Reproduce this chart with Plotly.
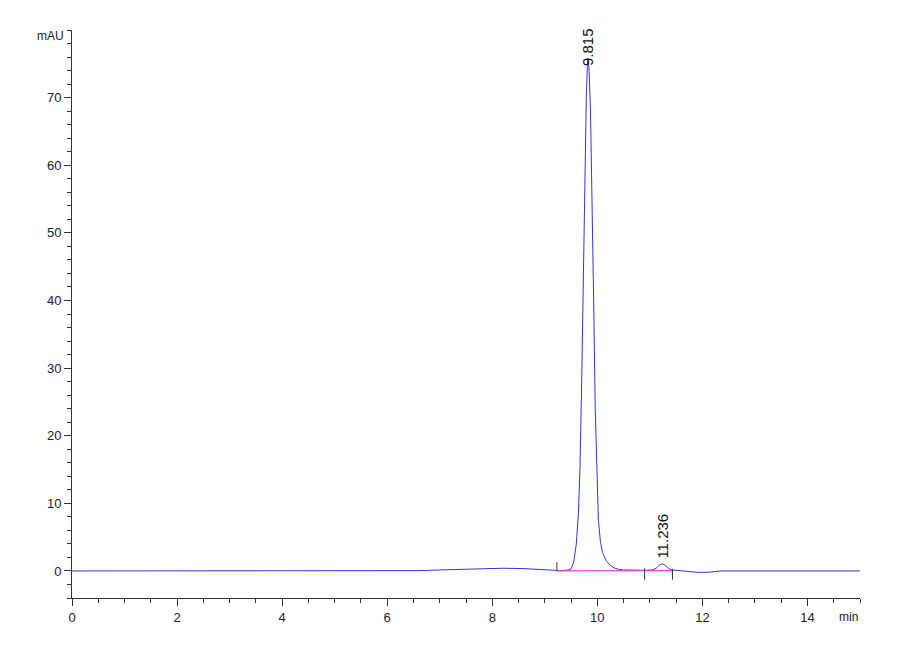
import plotly.graph_objects as go

# chromatogram trace (time in min, signal in mAU)
time_min = [0.0, 1.0, 2.0, 3.0, 4.0, 5.0, 6.0, 6.6, 7.0, 7.4, 7.5, 7.8, 8.2, 8.6,
            9.0, 9.3, 9.45, 9.50, 9.55, 9.60, 9.64, 9.67, 9.70, 9.73, 9.76, 9.79,
            9.815, 9.84, 9.87, 9.90, 9.93, 9.96, 9.99, 10.02, 10.06, 10.10, 10.17,
            10.25, 10.32, 10.40, 10.50, 10.70, 10.90, 11.05, 11.12, 11.18, 11.24,
            11.30, 11.36, 11.42, 11.50, 11.60, 11.75, 11.90, 12.10, 12.25, 12.35,
            13.0, 14.0, 15.0]
signal_mau = [0.0, 0.0, 0.0, 0.0, 0.0, 0.0, 0.0, 0.05, 0.15, 0.25, 0.2, 0.3, 0.4, 0.35,
              0.15, 0.05, 0.15, 0.3, 1.3, 4.0, 8.5, 15.4, 27.0, 43.0, 59.0, 70.0,
              75.8, 74.5, 68.0, 56.0, 40.0, 24.0, 13.5, 7.5, 4.2, 2.7, 1.5,
              0.8, 0.45, 0.25, 0.15, 0.1, 0.1, 0.15, 0.4, 0.85, 1.05,
              0.8, 0.35, 0.15, 0.1, 0.0, -0.15, -0.2, -0.2, -0.1, 0.0,
              0.0, 0.0, 0.0]

# integration baseline (pink)
base_t = [9.23, 10.90, 11.43]
base_y = [0.0, 0.1, 0.05]

# integration markers: start/end ticks (bottom, top in mAU)
mark_t = [9.23, 10.90, 11.43]
mark_lo = [0.0, -1.3, -1.3]
mark_hi = [1.3, 0.4, 0.3]

# peaks
peak_t = [9.815, 11.236]
peak_h = [75.8, 1.05]
peak_lbl = ["9.815", "11.236"]
peak_shift = [-10, 3]

FONT = "Liberation Sans Narrow, Liberation Sans, Arial, sans-serif"

fig = go.Figure()

fig.add_trace(go.Scatter(x=time_min, y=signal_mau, mode="lines",
                         line=dict(color="#3535d5", width=1), hoverinfo="skip"))

fig.add_trace(go.Scatter(x=base_t, y=base_y, mode="lines",
                         line=dict(color="#e83ce8", width=1.2), hoverinfo="skip"))

for t, lo, hi in zip(mark_t, mark_lo, mark_hi):
    fig.add_shape(type="line", x0=t, x1=t, y0=lo, y1=hi, xref="x", yref="y",
                  line=dict(color="#333333", width=1))

for t, h, lbl, sh in zip(peak_t, peak_h, peak_lbl, peak_shift):
    fig.add_annotation(x=t, y=h, text=lbl, showarrow=False, textangle=-90,
                       xanchor="center", yanchor="bottom", yshift=sh,
                       font=dict(family=FONT, size=15, color="#111111"))

fig.add_annotation(x=0, y=80, xref="x", yref="y", text="mAU", showarrow=False,
                   xanchor="right", yanchor="top", xshift=-6, yshift=3,
                   font=dict(family=FONT, size=12, color="#222222"))
fig.add_annotation(x=15, y=-4, xref="x", yref="y", text="min", showarrow=False,
                   xanchor="right", yanchor="top", yshift=-10,
                   font=dict(family=FONT, size=12, color="#222222"))

fig.update_layout(
    width=900, height=660,
    margin=dict(l=64, r=48, t=22, b=70),
    paper_bgcolor="white", plot_bgcolor="white",
    showlegend=False,
    font=dict(family=FONT, size=13, color="#222222"),
)
fig.update_xaxes(range=[0, 15], dtick=2, tick0=0, ticks="outside", ticklen=7,
                 tickcolor="#333333", showline=True, linecolor="#333333", linewidth=1,
                 showgrid=False, zeroline=False,
                 tickvals=[0, 2, 4, 6, 8, 10, 12, 14],
                 minor=dict(dtick=0.5, ticks="outside", ticklen=4, tickcolor="#333333"))
fig.update_yaxes(range=[-4, 80], dtick=10, tick0=0, ticks="outside", ticklen=7,
                 tickcolor="#333333", showline=True, linecolor="#333333", linewidth=1,
                 showgrid=False, zeroline=False,
                 tickvals=[0, 10, 20, 30, 40, 50, 60, 70],
                 minor=dict(dtick=2, ticks="outside", ticklen=4, tickcolor="#333333"))

fig.write_html("out.html")
